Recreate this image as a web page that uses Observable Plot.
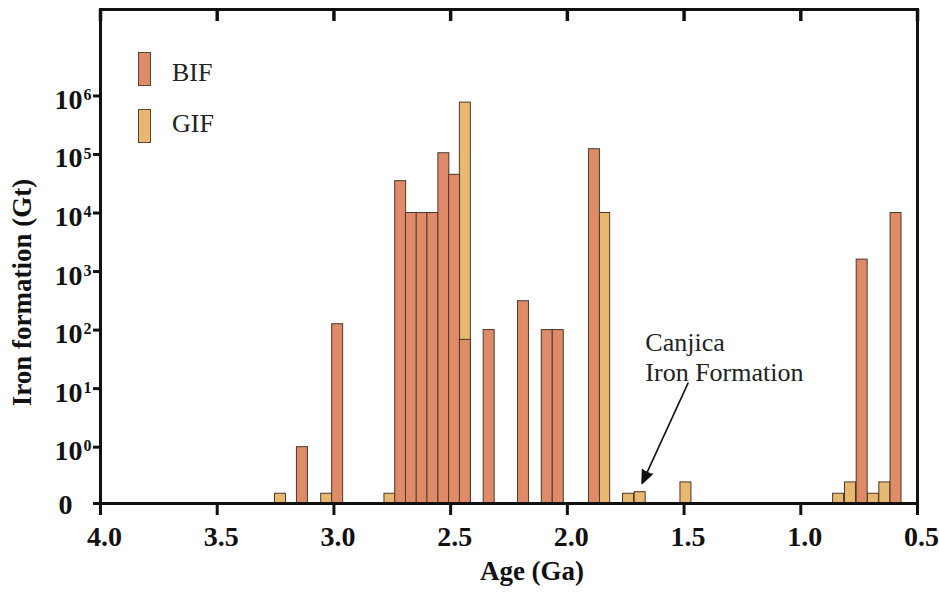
<!DOCTYPE html>
<html>
<head>
<meta charset="utf-8">
<script src="https://cdn.jsdelivr.net/npm/d3@7"></script>
<script src="https://cdn.jsdelivr.net/npm/@observablehq/plot@0.6"></script>
<style>
  body { margin: 0; background: #fff; }
  #wrap { position: relative; width: 939px; height: 593px; background: #fff; }
  .lg-swatch { position: absolute; width: 11px; height: 32px; border: 1px solid #5a4436; }
  .lg-text { position: absolute; font-family: "Liberation Serif", "Times New Roman", serif; font-size: 26px; line-height: 26px; color: #222; }
</style>
</head>
<body>
<div id="wrap"></div>
<script>
// ---- data (ages in Ga = bin centres, amounts in Gt) ----
const bifAges   = [3.135, 2.984, 2.714, 2.668, 2.622, 2.576, 2.529, 2.483, 2.437, 2.335, 2.188, 2.086, 2.039, 1.884, 0.737, 0.592];
const bifValues = [1,     126,   35000, 10000, 10000, 10000, 105000, 45000, 68,   100,   311,   100,   100,   123000, 1600, 10000];
const gifAges   = [3.229, 3.031, 2.760, 2.437,  1.840, 1.738, 1.688, 1.492, 0.838, 0.787, 0.689, 0.640];
const gifValues = [0.16,  0.16,  0.16,  770000, 10000, 0.16,  0.17,  0.25,  0.16,  0.25,  0.16,  0.25];

const xTicks = [4.0, 3.5, 3.0, 2.5, 2.0, 1.5, 1.0, 0.5];
const yDecades = [1, 10, 100, 1e3, 1e4, 1e5, 1e6];
const yExponents = ["0", "1", "2", "3", "4", "5", "6"];
const yZero = 0.109;      // axis floor, labelled "0"
const yTop = 3.0e7;
const binWidth = 0.047;   // Ga

const annotationText = ["Canjica", "Iron Formation"];
const annotationAt = {age: 1.666, value: 100};
const arrowFrom = {age: 1.483, value: 12.4};
const arrowTo = {age: 1.680, value: 0.24};

const legendItems = ["BIF", "GIF"];
const colors = {BIF: "#E08B68", GIF: "#E8B870"};
const outline = "#4a382c";

// ---- layout ----
const W = 939, H = 593, mL = 100, mR = 22, mT = 9, mB = 90;
const innerH = H - mT - mB;
const topTickLen = 12;

// ---- build ----
const bif = bifAges.map((age, i) => ({age, value: bifValues[i], type: "BIF"}));
const gif = gifAges.map((age, i) => ({age, value: gifValues[i], type: "GIF"}));
const boldSerif = {fontWeight: "bold", fill: "#111"};

const chart = Plot.plot({
  width: W,
  height: H,
  marginLeft: mL,
  marginRight: mR,
  marginTop: mT,
  marginBottom: mB,
  style: {fontFamily: '"Liberation Serif", "Times New Roman", serif', fontSize: "26px", color: "#111", background: "#fff"},
  x: {domain: [4.0, 0.5]},
  y: {type: "log", domain: [yZero, yTop]},
  marks: [
    Plot.rect(gif, {x1: d => d.age + binWidth / 2, x2: d => d.age - binWidth / 2, y1: yZero, y2: "value",
      fill: colors.GIF, stroke: outline, strokeWidth: 1}),
    Plot.rect(bif, {x1: d => d.age + binWidth / 2, x2: d => d.age - binWidth / 2, y1: yZero, y2: "value",
      fill: colors.BIF, stroke: outline, strokeWidth: 1}),
    Plot.frame({stroke: "#111", strokeWidth: 3}),
    // bottom axis: ticks, then labels
    Plot.axisX({ticks: xTicks, tickSize: 12, strokeWidth: 3, stroke: "#111", fill: "none", label: null}),
    Plot.axisX({ticks: xTicks, tickSize: 12, tickPadding: 11, stroke: "none", tickFormat: d3.format(".1f"),
      dx: 4, fontSize: 28, ...boldSerif, label: null}),
    // left axis ticks
    Plot.axisY({ticks: [yZero, ...yDecades], tickSize: 7, strokeWidth: 3, stroke: "#111", fill: "none", label: null}),
    Plot.text(yDecades, {frameAnchor: "left", y: d => d, text: () => "10", textAnchor: "end",
      dx: -18, dy: 4, fontSize: 28, ...boldSerif}),
    Plot.text(yDecades, {frameAnchor: "left", y: d => d, text: (d, i) => yExponents[i], textAnchor: "start",
      dx: -17, dy: -1, fontSize: 16, ...boldSerif}),
    Plot.text([yZero], {frameAnchor: "left", y: d => d, text: () => "0", textAnchor: "end",
      dx: -28, dy: 2, fontSize: 28, ...boldSerif}),
    // axis titles
    Plot.text(["Age (Ga)"], {frameAnchor: "bottom", text: d => d, textAnchor: "middle", dx: 23, dy: 76, fontSize: 27, ...boldSerif}),
    Plot.text(["Iron formation (Gt)"], {frameAnchor: "left", text: d => d, textAnchor: "middle", rotate: -90, dx: -78, dy: 36, fontSize: 27, ...boldSerif}),
    // annotation
    Plot.text([annotationAt], {x: "age", y: "value", text: () => annotationText.join("\n"), textAnchor: "start",
      lineAnchor: "top", lineHeight: 1.15, fontSize: 26, fill: "#222"}),
    Plot.arrow([{from: arrowFrom, to: arrowTo}], {x1: d => d.from.age, y1: d => d.from.value, x2: d => d.to.age, y2: d => d.to.value,
      stroke: "#111", fill: "#111", strokeWidth: 1.6, headLength: 13, headAngle: 45}),
    // top edge: short inward ticks (drawn last)
    Plot.ruleX(xTicks, {x: d => d, insetBottom: innerH - topTickLen, stroke: "#111", strokeWidth: 3.5})
  ]
});

const wrap = document.getElementById("wrap");
wrap.appendChild(chart);

// legend overlay (inside the frame, upper left)
const legendLayout = [{swTop: 52, txTop: 60}, {swTop: 109, txTop: 111}];
legendItems.forEach((name, i) => {
  const sw = document.createElement("div");
  sw.className = "lg-swatch";
  sw.style.left = "138px";
  sw.style.top = legendLayout[i].swTop + "px";
  sw.style.background = colors[name];
  wrap.appendChild(sw);
  const tx = document.createElement("div");
  tx.className = "lg-text";
  tx.style.left = "172px";
  tx.style.top = legendLayout[i].txTop + "px";
  tx.textContent = name;
  wrap.appendChild(tx);
});
</script>
</body>
</html>
